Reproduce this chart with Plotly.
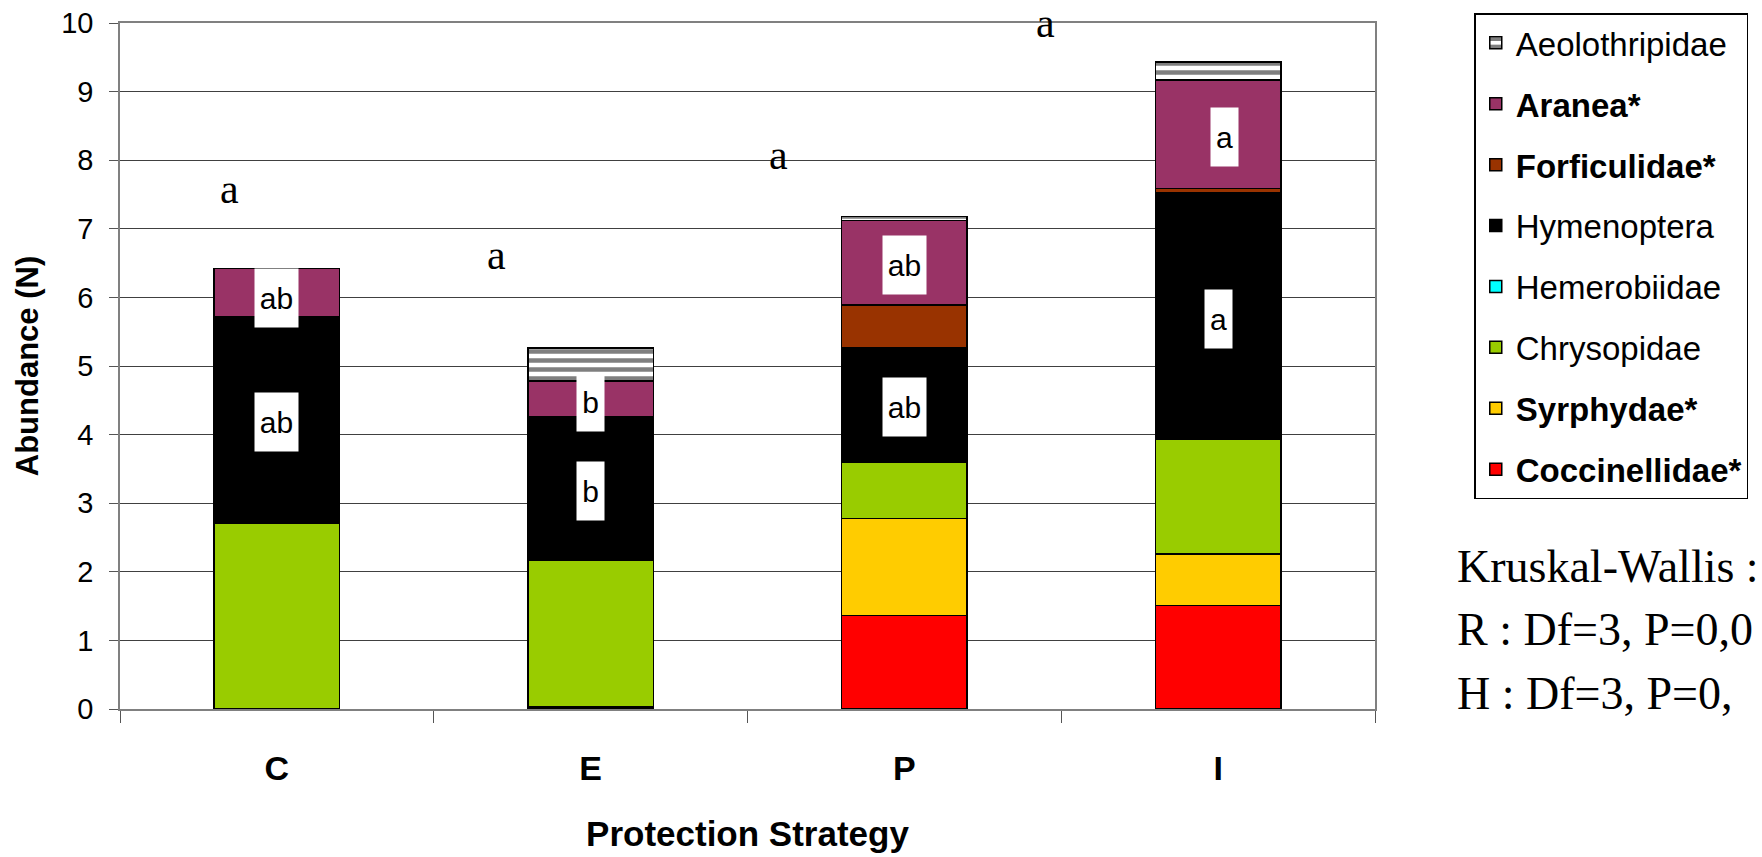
import plotly.graph_objects as go

categories = ["C", "E", "P", "I"]

# stacked bottom -> top
coccinellidae = [0, 0, 1.36, 1.51]
syrphydae = [0, 0.03, 1.42, 0.75]
chrysopidae = [2.71, 2.14, 0.82, 1.67]
hemerobiidae = [0, 0, 0, 0]
hymenoptera = [3.01, 2.09, 1.66, 3.59]
forficulidae = [0, 0, 0.63, 0.07]
aranea = [0.70, 0.52, 1.23, 1.58]
aeolothripidae = [0, 0.48, 0.06, 0.26]

series = [
    ("<b>Coccinellidae*</b>", coccinellidae, "#FF0000"),
    ("<b>Syrphydae*</b>", syrphydae, "#FFCC00"),
    ("Chrysopidae", chrysopidae, "#99CC00"),
    ("Hemerobiidae", hemerobiidae, "#00FFFF"),
    ("Hymenoptera", hymenoptera, "#000000"),
    ("<b>Forficulidae*</b>", forficulidae, "#993300"),
    ("<b>Aranea*</b>", aranea, "#993366"),
    ("Aeolothripidae", aeolothripidae, None),
]

# letters inside bars: (category index, y, text, box width)
box_labels = [
    (0, 5.99, "ab", 43), (0, 4.19, "ab", 43),
    (1, 4.47, "b", 27), (1, 3.18, "b", 27),
    (2, 6.47, "ab", 43), (2, 4.40, "ab", 43),
    (3.02, 8.34, "a", 27), (3.0, 5.69, "a", 27),
]
# serif letters above bars
top_labels = [(-0.15, 7.58, "a"), (0.70, 6.62, "a"), (1.60, 8.07, "a"), (2.45, 10.0, "a")]

stats_lines = ["Kruskal-Wallis :", "R : Df=3, P=0,0", "H : Df=3, P=0,"]

fig = go.Figure()
n = len(series)
for i, (name, vals, col) in enumerate(series):
    if col is None:
        marker = dict(color="white",
                      pattern=dict(shape="-", fgcolor="black", bgcolor="white",
                                   size=9, solidity=0.5),
                      line=dict(color="black", width=1.5))
    else:
        marker = dict(color=col, line=dict(color="black", width=1.5))
    fig.add_trace(go.Bar(x=categories, y=vals, name=name, marker=marker,
                         legendgroup=f"g{i}", legendrank=n - i))

for x, y, t, w in box_labels:
    fig.add_annotation(x=x, y=y, xref="x", yref="y", text=t, showarrow=False,
                       bgcolor="white", width=w, height=58, borderpad=0,
                       font=dict(family="Liberation Sans", size=30, color="black"))

for x, y, t in top_labels:
    fig.add_annotation(x=x, y=y, xref="x", yref="y", text=t, showarrow=False,
                       font=dict(family="Liberation Serif", size=42, color="black"))

for k, (t, yy) in enumerate(zip(stats_lines, [0.2074, 0.1152, 0.0233])):
    fig.add_annotation(x=1.0637, y=yy, xref="paper", yref="paper", text=t,
                       showarrow=False, xanchor="left", yanchor="middle",
                       font=dict(family="Liberation Serif", size=46, color="black"))

fig.update_layout(
    width=1762, height=857,
    barmode="stack", bargap=0.6,
    plot_bgcolor="white", paper_bgcolor="white",
    margin=dict(l=120, r=387, t=23, b=148, autoexpand=False),
    font=dict(family="Liberation Sans", color="black"),
    legend=dict(x=1.0791, y=1.014, xanchor="left", yanchor="top",
                bordercolor="black", borderwidth=1.5, bgcolor="white",
                font=dict(family="Liberation Sans", size=33, color="black"),
                traceorder="grouped", tracegroupgap=15, maxheight=1.0),
    xaxis=dict(title=dict(text="<b>Protection Strategy</b>", font=dict(size=35), standoff=36),
               tickfont=dict(size=34, family="Liberation Sans"),
               tickprefix="<b>", ticksuffix="</b>",
               ticks="outside", ticklen=12, tickcolor="#555", tickson="boundaries",
               ticklabelstandoff=28,
               showline=True, linecolor="#808080", linewidth=1.5, mirror=True,
               showgrid=False),
    yaxis=dict(title=dict(text="<b>Abundance (N)</b>", font=dict(size=31), standoff=13),
               range=[0, 10], dtick=1, tickfont=dict(size=29, family="Liberation Sans"),
               ticks="outside", ticklen=9, tickcolor="#555", ticklabelstandoff=10,
               showline=True, linecolor="#808080", linewidth=1.5, mirror=True,
               showgrid=True, gridcolor="#404040", gridwidth=1, zeroline=False),
)

fig.write_html("out.html")
